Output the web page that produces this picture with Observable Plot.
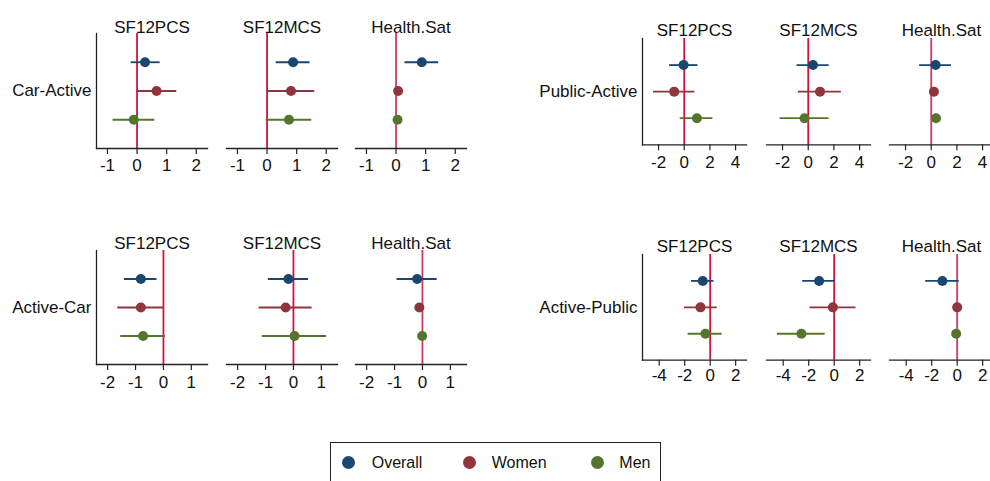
<!DOCTYPE html>
<html>
<head>
<meta charset="utf-8">
<script src="https://cdn.jsdelivr.net/npm/d3@7"></script>
<script src="https://cdn.jsdelivr.net/npm/@observablehq/plot@0.6"></script>
<style>
  html, body { margin: 0; padding: 0; background: #fff; overflow: hidden; }
  #root { position: relative; width: 990px; height: 481px; overflow: hidden; background: #fff;
          font-family: "Liberation Sans", Arial, Helvetica, sans-serif; color: #111; }
  #root svg { position: absolute; overflow: visible; }
  #legend { position: absolute; left: 330px; top: 442px; width: 331px; height: 46px;
            border: 1.3px solid #222; box-sizing: border-box; }
  .lg-dot { position: absolute; width: 13px; height: 13px; border-radius: 50%; top: 13px; }
  .lg-txt { position: absolute; top: 10px; font-size: 16px; line-height: 20px; }
</style>
</head>
<body>
<div id="root"><div id="legend"></div></div>
<script>
// ---------- data ----------
const series = ["Overall", "Women", "Men"];
const outcomes = ["SF12PCS", "SF12MCS", "Health.Sat"];
const comparisons = ["Car-Active", "Public-Active", "Active-Car", "Active-Public"];

// estimates[outcome][series]
const carActiveEst = [[0.27, 0.66, -0.11], [0.88, 0.81, 0.74], [0.87, 0.07, 0.05]];
const carActiveLo  = [[-0.20, 0.00, -0.81], [0.31, 0.00, -0.03], [0.30, 0.02, 0.00]];
const carActiveHi  = [[0.78, 1.34, 0.60], [1.45, 1.61, 1.51], [1.44, 0.12, 0.10]];

const publicActiveEst = [[-0.05, -0.78, 0.99], [0.37, 0.92, -0.29], [0.34, 0.21, 0.37]];
const publicActiveLo  = [[-1.14, -2.39, -0.31], [-0.87, -0.77, -2.19], [-0.90, 0.11, 0.27]];
const publicActiveHi  = [[1.07, 0.83, 2.23], [1.63, 2.58, 1.63], [1.58, 0.31, 0.47]];

const activeCarEst = [[-0.81, -0.81, -0.73], [-0.18, -0.28, 0.04], [-0.19, -0.11, -0.01]];
const activeCarLo  = [[-1.40, -1.64, -1.53], [-0.90, -1.23, -1.12], [-0.91, -0.16, -0.06]];
const activeCarHi  = [[-0.23, 0.02, 0.07], [0.54, 0.67, 1.19], [0.53, -0.06, 0.04]];

const activePublicEst = [[-0.58, -0.76, -0.37], [-1.18, -0.10, -2.57], [-1.16, 0.00, -0.08]];
const activePublicLo  = [[-1.47, -2.02, -1.73], [-2.47, -1.89, -4.46], [-2.47, -0.10, -0.18]];
const activePublicHi  = [[0.29, 0.55, 0.94], [0.11, 1.71, -0.71], [0.16, 0.10, 0.02]];

const ticksCarActive = [-1, 0, 1, 2];
const ticksPublicActive = [-2, 0, 2, 4];
const ticksActiveCar = [-2, -1, 0, 1];
const ticksActivePublic = [-4, -2, 0, 2];

const domainCarActive = [-1.37, 2.38];
const domainPublicActive = [-3.25, 4.85];
const domainActiveCar = [-2.40, 1.58];
const domainActivePublic = [-5.31, 2.85];

// ---------- styles / layout ----------
const seriesColors = ["#1a476f", "#90353b", "#55752f"];
const refColors = ["#d3113f", "#d3113f", "#cc3b60"];
const FONT = 17;

const groups = [
  {est: carActiveEst, lo: carActiveLo, hi: carActiveHi, ticks: ticksCarActive, domain: domainCarActive,
   lefts: [95.7, 225.7, 355], w: 111, top: 33, h: 115, titleDy: 13, tickPad: 4},
  {est: publicActiveEst, lo: publicActiveLo, hi: publicActiveHi, ticks: ticksPublicActive, domain: domainPublicActive,
   lefts: [642.3, 765.7, 889.3], w: 104, top: 38, h: 106.3, titleDy: 15, tickPad: 4.7},
  {est: activeCarEst, lo: activeCarLo, hi: activeCarHi, ticks: ticksActiveCar, domain: domainActiveCar,
   lefts: [95.7, 225.7, 355], w: 111, top: 250, h: 114, titleDy: 14, tickPad: 5.7},
  {est: activePublicEst, lo: activePublicLo, hi: activePublicHi, ticks: ticksActivePublic, domain: domainActivePublic,
   lefts: [642.3, 765.7, 889.3], w: 104, top: 254.3, h: 105.7, titleDy: 15, tickPad: 2.7}
];

const root = document.getElementById("root");
const M = {l: 12, r: 12, t: 30, b: 34};

groups.forEach((g, gi) => {
  outcomes.forEach((outcome, oi) => {
    const rows = series.map((s, si) => ({
      series: s, est: g.est[oi][si], lo: g.lo[oi][si], hi: g.hi[oi][si]
    }));
    const marks = [
      Plot.ruleX([0], {stroke: refColors[oi], strokeWidth: 1.8}),
      Plot.ruleY(rows, {y: "series", x1: "lo", x2: "hi", stroke: "series", strokeWidth: 1.8}),
      Plot.dot(rows, {x: "est", y: "series", fill: "series", r: 5, stroke: null}),
      Plot.frame({anchor: "bottom", stroke: "#222", strokeWidth: 1.3}),
      Plot.axisX({ticks: g.ticks, tickSize: 6, tickPadding: g.tickPad, fontSize: FONT,
                  tickFormat: d => String(d), stroke: "#222", strokeWidth: 1.2, fill: "#111"}),
      Plot.text([outcome], {frameAnchor: "top", dy: -g.titleDy, fontSize: FONT, fill: "#111"})
    ];
    if (oi === 0) {
      marks.push(Plot.frame({anchor: "left", stroke: "#222", strokeWidth: 1.3}));
      marks.push(Plot.text([comparisons[gi]], {frameAnchor: "left", textAnchor: "end", dx: -5,
                                               fontSize: FONT, fill: "#111"}));
    }
    const svg = Plot.plot({
      width: g.w + M.l + M.r,
      height: g.h + M.t + M.b,
      marginLeft: M.l, marginRight: M.r, marginTop: M.t, marginBottom: M.b,
      style: {background: "transparent", overflow: "visible",
              fontFamily: '"Liberation Sans", Arial, Helvetica, sans-serif'},
      x: {domain: g.domain, axis: null},
      y: {type: "point", domain: series, padding: 1, round: false, axis: null},
      color: {domain: series, range: seriesColors},
      marks
    });
    svg.style.left = (g.lefts[oi] - M.l) + "px";
    svg.style.top = (g.top - M.t) + "px";
    root.appendChild(svg);
  });
});

// ---------- legend ----------
const legend = document.getElementById("legend");
const dotX = [17.3, 138.3, 266];
const txtX = [40.7, 160.7, 288.3];
series.forEach((s, i) => {
  const d = document.createElement("div");
  d.className = "lg-dot";
  d.style.left = (dotX[i] - 6.5) + "px";
  d.style.background = seriesColors[i];
  legend.appendChild(d);
  const t = document.createElement("div");
  t.className = "lg-txt";
  t.style.left = txtX[i] + "px";
  t.textContent = s;
  legend.appendChild(t);
});
</script>
</body>
</html>
